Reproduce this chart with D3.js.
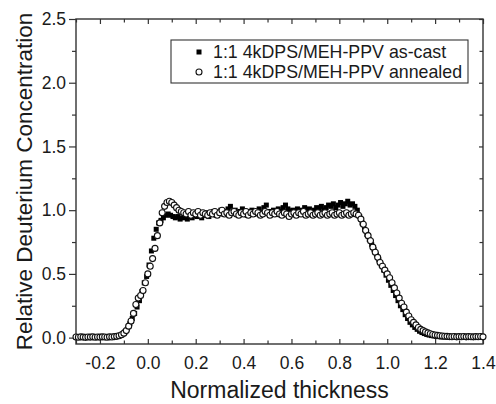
<!DOCTYPE html>
<html>
<head>
<meta charset="utf-8">
<script src="https://cdn.jsdelivr.net/npm/d3@7"></script>
<style>
  body { margin: 0; background: #fff; }
  svg { font-family: Arial, "Liberation Sans", sans-serif; }
</style>
</head>
<body>
<div id="chart"></div>
<script>
// Depth profiles
const asCastX = [
  -0.295,-0.285,-0.275,-0.265,-0.255,-0.245,-0.235,-0.225,-0.215,-0.205,
  -0.195,-0.185,-0.175,-0.165,-0.155,-0.145,
  -0.135,-0.125,-0.115,-0.105,-0.095,-0.085,-0.075,-0.065,-0.055,-0.045,-0.035,-0.025,-0.015,-0.005,
  0.005,0.015,0.025,0.035,0.045,0.055,0.065,0.075,0.085,0.095,0.105,0.115,0.125,0.135,0.145,0.155,
  0.165,0.175,0.185,0.195,0.205,0.215,0.225,0.235,0.245,0.255,
  0.265,0.275,0.285,0.295,0.305,0.315,0.325,0.335,0.345,0.355,
  0.365,0.375,0.385,0.395,0.405,0.415,0.425,0.435,0.445,0.455,
  0.465,0.475,0.485,0.495,0.505,0.515,0.525,0.535,0.545,0.555,
  0.565,0.575,0.585,0.595,0.605,0.615,0.625,0.635,0.645,0.655,
  0.665,0.675,0.685,0.695,0.705,0.715,0.725,0.735,0.745,0.755,
  0.765,0.775,0.785,0.795,0.805,0.815,0.825,0.835,0.845,0.855,
  0.865,0.875,0.885,0.895,0.905,0.915,0.925,0.935,0.945,0.955,
  0.965,0.975,0.985,0.995,1.005,1.015,1.025,1.035,1.045,1.055,
  1.065,1.075,1.085,1.095,1.105,1.115,1.125,1.135,1.145,1.155,
  1.165,1.175,1.185,1.195,1.205,
  1.215,1.225,1.235,1.245,1.255,1.265,1.275,1.285,1.295,1.305,
  1.315,1.325,1.335,1.345,1.355,1.365,1.375,1.385,1.395
];
const asCastY = [
  0.004,0.006,0.003,0.005,0.007,0.004,0.005,0.003,0.006,0.004,
  0.005,0.007,0.004,0.006,0.005,0.006,
  0.008,0.012,0.018,0.028,0.045,0.07,0.11,0.15,0.19,0.24,0.29,0.36,0.43,0.48,
  0.57,0.68,0.78,0.85,0.90,0.92,0.94,0.96,0.97,0.96,0.95,0.94,0.95,0.93,0.94,0.95,
  0.93,0.95,0.94,0.96,0.95,0.97,0.94,0.96,0.98,0.95,
  0.97,0.99,0.96,0.98,1.00,0.97,0.99,1.01,1.03,0.98,
  1.00,0.97,0.99,1.01,0.98,0.96,0.99,1.00,0.97,0.99,
  1.01,0.98,1.02,1.04,0.99,0.97,1.00,0.98,1.01,0.99,
  1.02,1.04,1.01,0.99,1.00,0.98,1.01,0.99,1.00,1.02,
  0.99,1.01,0.98,1.00,1.02,1.01,1.03,1.00,1.02,1.04,
  1.03,1.05,1.02,1.04,1.06,1.03,1.05,1.07,1.04,1.05,
  1.03,1.00,0.95,0.90,0.85,0.81,0.77,0.73,0.69,0.65,
  0.61,0.57,0.53,0.49,0.45,0.41,0.37,0.33,0.29,0.25,
  0.22,0.18,0.15,0.12,0.10,0.08,0.065,0.05,0.04,0.032,
  0.025,0.02,0.016,0.013,0.01,
  0.008,0.006,0.007,0.005,0.006,0.004,0.006,0.005,0.007,0.004,
  0.005,0.006,0.004,0.005,0.006,0.004,0.005,0.006,0.005
];

const annealedX = [
  -0.30,-0.29,-0.28,-0.27,-0.26,-0.25,-0.24,-0.23,-0.22,-0.21,
  -0.20,-0.19,-0.18,-0.17,-0.16,-0.15,-0.14,
  -0.13,-0.12,-0.11,-0.10,-0.09,-0.08,-0.07,-0.06,-0.05,-0.04,-0.03,-0.02,-0.01,
  0.00,0.01,0.02,0.03,0.04,0.05,0.06,0.07,0.08,0.09,0.10,0.11,0.12,0.13,0.14,0.15,
  0.16,0.17,0.18,0.19,0.20,0.21,0.22,0.23,0.24,0.25,
  0.26,0.27,0.28,0.29,0.30,0.31,0.32,0.33,0.34,0.35,
  0.36,0.37,0.38,0.39,0.40,0.41,0.42,0.43,0.44,0.45,
  0.46,0.47,0.48,0.49,0.50,0.51,0.52,0.53,0.54,0.55,
  0.56,0.57,0.58,0.59,0.60,0.61,0.62,0.63,0.64,0.65,
  0.66,0.67,0.68,0.69,0.70,0.71,0.72,0.73,0.74,0.75,
  0.76,0.77,0.78,0.79,0.80,0.81,0.82,0.83,0.84,0.85,
  0.86,0.87,
  0.88,0.89,0.90,0.91,0.92,0.93,0.94,0.95,0.96,0.97,
  0.98,0.99,1.00,1.01,1.02,1.03,1.04,1.05,1.06,1.07,
  1.08,1.09,1.10,1.11,1.12,1.13,1.14,1.15,1.16,1.17,
  1.18,1.19,1.20,1.21,1.22,1.23,1.24,1.25,
  1.26,1.27,1.28,1.29,1.30,1.31,1.32,1.33,1.34,1.35,
  1.36,1.37,1.38,1.39,1.40
];
const annealedY = [
  0.005,0.003,0.006,0.004,0.002,0.005,0.004,0.006,0.003,0.005,
  0.004,0.006,0.005,0.003,0.006,0.005,0.008,
  0.010,0.015,0.022,0.035,0.055,0.09,0.13,0.19,0.26,0.31,0.33,0.37,0.43,
  0.50,0.56,0.62,0.70,0.80,0.90,0.98,1.03,1.06,1.07,1.06,1.04,1.02,1.00,0.99,0.98,
  0.97,0.99,0.96,0.98,0.97,0.99,0.96,0.98,0.97,0.96,
  0.98,0.97,0.99,0.96,0.98,1.00,0.97,0.98,0.96,0.98,
  0.99,0.97,0.96,0.98,0.97,0.99,0.96,0.98,0.97,0.99,
  0.98,0.96,0.97,0.99,0.98,0.96,0.98,0.97,0.99,0.97,
  0.96,0.98,0.97,0.95,0.97,0.98,0.96,0.98,0.97,0.99,
  0.96,0.97,0.98,0.96,0.97,0.98,0.96,0.97,0.98,0.96,
  0.97,0.98,0.96,0.97,0.98,0.96,0.97,0.98,0.96,0.97,
  0.98,0.97,
  0.96,0.93,0.89,0.84,0.80,0.76,0.71,0.67,0.63,0.59,
  0.56,0.53,0.50,0.47,0.43,0.39,0.35,0.31,0.27,0.24,
  0.20,0.17,0.14,0.12,0.10,0.08,0.065,0.055,0.045,0.037,
  0.030,0.025,0.021,0.018,0.015,0.013,0.011,0.010,
  0.008,0.007,0.009,0.006,0.008,0.007,0.009,0.006,0.008,0.007,
  0.006,0.008,0.007,0.009,0.006
];

const seriesNames = ["1:1 4kDPS/MEH-PPV as-cast", "1:1 4kDPS/MEH-PPV annealed"];
const xMajorTicks = [-0.2, 0.0, 0.2, 0.4, 0.6, 0.8, 1.0, 1.2, 1.4];
const yMajorTicks = [0.0, 0.5, 1.0, 1.5, 2.0, 2.5];

const W = 496, H = 404;
const margin = {left: 76, right: 13, top: 19, bottom: 60};
const axisColor = "#333";

const svg = d3.select("#chart").append("svg")
    .attr("width", W)
    .attr("height", H);

const x = d3.scaleLinear().domain([-0.3, 1.4]).range([margin.left, W - margin.right]);
const y = d3.scaleLinear().domain([-0.05, 2.5]).range([H - margin.bottom, margin.top]);

const x0 = x.range()[0], x1 = x.range()[1];
const yb = y.range()[0], yt = y.range()[1];

// plain hyphen for negatives, like the original
const fmt = d => d.toFixed(1);

// tick lists (major + minor)
const xMinor = d3.range(-0.3, 1.4001, 0.1).filter(v => !xMajorTicks.some(t => Math.abs(t - v) < 1e-6));
const yMinor = d3.range(0.25, 2.5, 0.5);

function styleAxis(g) {
    g.select(".domain").remove();
    g.selectAll(".tick line").attr("stroke", axisColor).attr("stroke-width", 1.2);
    g.selectAll(".tick text")
        .attr("fill", "#1a1a1a")
        .style("font-size", "17.5px");
}

// bottom axis, ticks inward
svg.append("g")
    .attr("transform", `translate(0,${yb})`)
    .call(d3.axisBottom(x).tickValues(xMajorTicks).tickSize(-5).tickPadding(13)
        .tickFormat(fmt))
    .call(styleAxis);
svg.append("g")
    .attr("transform", `translate(0,${yb})`)
    .call(d3.axisBottom(x).tickValues(xMinor).tickSize(-3.5).tickFormat(""))
    .call(styleAxis);

// top axis, ticks inward
svg.append("g")
    .attr("transform", `translate(0,${yt})`)
    .call(d3.axisTop(x).tickValues(xMajorTicks).tickSize(-5).tickFormat(""))
    .call(styleAxis);
svg.append("g")
    .attr("transform", `translate(0,${yt})`)
    .call(d3.axisTop(x).tickValues(xMinor).tickSize(-3.5).tickFormat(""))
    .call(styleAxis);

// left axis, ticks outward
svg.append("g")
    .attr("transform", `translate(${x0},0)`)
    .call(d3.axisLeft(y).tickValues(yMajorTicks).tickSize(7).tickPadding(3)
        .tickFormat(fmt))
    .call(styleAxis);
svg.append("g")
    .attr("transform", `translate(${x0},0)`)
    .call(d3.axisLeft(y).tickValues(yMinor).tickSize(4).tickFormat(""))
    .call(styleAxis);

// right axis, ticks inward
svg.append("g")
    .attr("transform", `translate(${x1},0)`)
    .call(d3.axisRight(y).tickValues(yMajorTicks).tickSize(-4).tickFormat(""))
    .call(styleAxis);
svg.append("g")
    .attr("transform", `translate(${x1},0)`)
    .call(d3.axisRight(y).tickValues(yMinor).tickSize(-3.5).tickFormat(""))
    .call(styleAxis);

// frame
svg.append("rect")
    .attr("x", x0).attr("y", yt)
    .attr("width", x1 - x0).attr("height", yb - yt)
    .attr("fill", "none")
    .attr("stroke", axisColor)
    .attr("stroke-width", 1.4);

// data
const asCast = asCastX.map((d, i) => ({x: d, y: asCastY[i]}));
const annealed = annealedX.map((d, i) => ({x: d, y: annealedY[i]}));
const sq = 5;

svg.append("g")
    .selectAll("rect")
    .data(asCast)
    .enter().append("rect")
    .attr("x", d => x(d.x) - sq / 2)
    .attr("y", d => y(d.y) - sq / 2)
    .attr("width", sq)
    .attr("height", sq)
    .attr("fill", "#000");

svg.append("g")
    .selectAll("circle")
    .data(annealed)
    .enter().append("circle")
    .attr("cx", d => x(d.x))
    .attr("cy", d => y(d.y))
    .attr("r", 3)
    .attr("fill", "#fff")
    .attr("stroke", "#111")
    .attr("stroke-width", 1.1);

// legend
const legend = svg.append("g");
legend.append("rect")
    .attr("x", 171).attr("y", 40)
    .attr("width", 297).attr("height", 43)
    .attr("fill", "#fff")
    .attr("stroke", axisColor)
    .attr("stroke-width", 1.1);
legend.append("rect")
    .attr("x", 199 - sq / 2).attr("y", 52 - sq / 2)
    .attr("width", sq).attr("height", sq)
    .attr("fill", "#000");
legend.append("circle")
    .attr("cx", 199).attr("cy", 72).attr("r", 3)
    .attr("fill", "#fff").attr("stroke", "#111").attr("stroke-width", 1.1);
legend.selectAll("text")
    .data(seriesNames)
    .enter().append("text")
    .attr("x", 213)
    .attr("y", (d, i) => 52 + i * 20)
    .attr("dy", "0.35em")
    .attr("fill", "#1a1a1a")
    .style("font-size", "17.8px")
    .text(d => d);

// axis titles
svg.append("text")
    .attr("x", (x0 + x1) / 2)
    .attr("y", 398)
    .attr("text-anchor", "middle")
    .attr("fill", "#1a1a1a")
    .style("font-size", "23px")
    .text("Normalized thickness");

svg.append("text")
    .attr("transform", `translate(32,${(yt + yb) / 2}) rotate(-90)`)
    .attr("text-anchor", "middle")
    .attr("fill", "#1a1a1a")
    .style("font-size", "22.5px")
    .text("Relative Deuterium Concentration");
</script>
</body>
</html>
